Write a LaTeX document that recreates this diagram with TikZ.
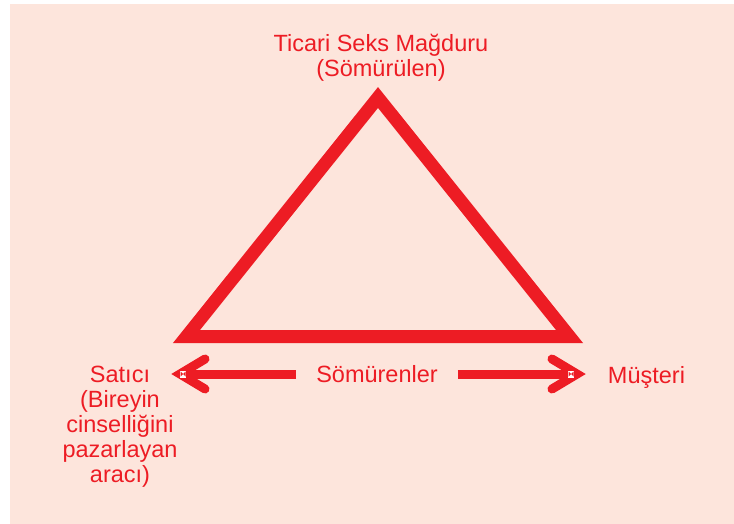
\documentclass[tikz,border=0pt]{standalone}
\usepackage{fontspec}
\setmainfont{Liberation Sans}
\usepackage{tikz}
\usetikzlibrary{arrows.meta}

\definecolor{tred}{HTML}{ED1C24}
\definecolor{bgpink}{HTML}{FDE5DC}

\begin{document}
\begin{tikzpicture}[
    x=1pt, y=-1pt,
    lbl/.style={text=tred, font=\fontsize{23.5}{25}\selectfont, align=center, inner sep=0pt},
    tri/.style={draw=tred, line width=13pt, line join=miter},
    shaft/.style={draw=tred, line width=9pt},
    head/.style={draw=tred, line width=9pt, line cap=round, line join=miter}
]
\useasboundingbox (0,0) rectangle (734,524);

% Background
\fill[bgpink] (10,4) rectangle (734,524);

% Triangle corners
\coordinate (apex) at (378,97.5);
\coordinate (bl) at (186.5,336.5);
\coordinate (br) at (569.5,336.5);

\draw[tri] (apex) -- (bl) -- (br) -- cycle;

% Labels
\node[lbl] (victim) at (381,58) {Ticari Seks Mağduru\\(Sömürülen)};
\node[lbl] (seller) at (120,427) {Satıcı\\(Bireyin\\cinselliğini\\pazarlayan\\aracı)};
\node[lbl] (buyer) at (646.5,377) {Müşteri};
\node[lbl] (exploiters) at (377,374) {Sömürenler};

% Arrow tips
\coordinate (ltip) at (180,374);
\coordinate (rtip) at (577,374);

% Shafts
\draw[shaft, shorten <=20pt] (exploiters) -- (ltip);
\draw[shaft, shorten <=20pt] (exploiters) -- (rtip);

% Heads
\draw[head] (ltip) ++(25,-15) -- (ltip) -- ++(25,15);
\draw[head] (rtip) ++(-25,-15) -- (rtip) -- ++(-25,15);

% Small marks at the tips
\foreach \m in {183,571} {
    \fill[white] (\m-3,370.5) rectangle (\m+3,377.5);
    \fill[tred] (\m-2.5,371.5) -- (\m,374) -- (\m-2.5,376.5) -- cycle
                (\m+2.5,371.5) -- (\m,374) -- (\m+2.5,376.5) -- cycle;
}

\end{tikzpicture}
\end{document}
